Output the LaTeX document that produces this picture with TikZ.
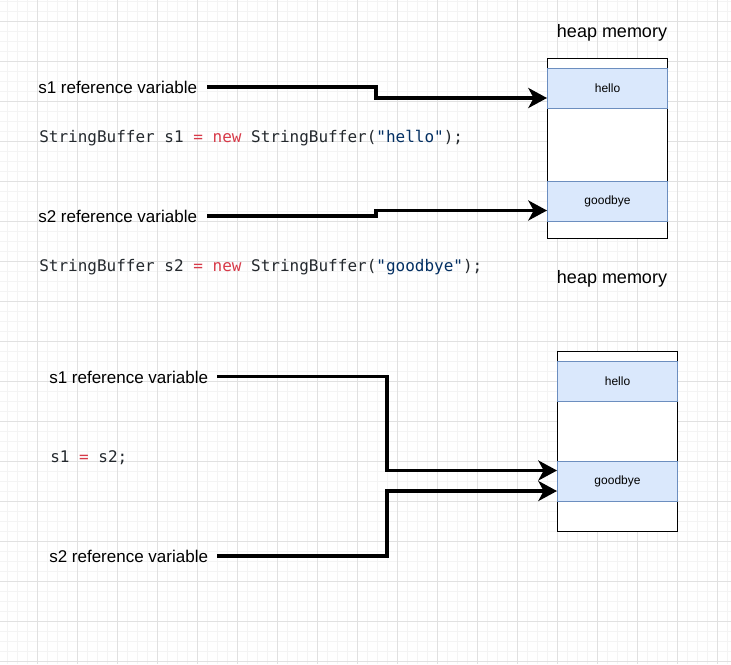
\documentclass[tikz,border=0pt]{standalone}
\usepackage{fontspec}
\setmainfont{Liberation Sans}
\newfontfamily\codefont{DejaVu Sans Mono}
\usetikzlibrary{arrows.meta}
\definecolor{gridmajor}{HTML}{E1E1E1}
\definecolor{gridminor}{HTML}{F4F4F4}
\definecolor{blockfill}{HTML}{DAE8FC}
\definecolor{blockline}{HTML}{6C8EBF}
\definecolor{kwred}{HTML}{D73A49}
\definecolor{strblue}{HTML}{032F62}
\definecolor{codetext}{HTML}{24292E}
\tikzset{
  minorgrid/.style={draw=gridminor, line width=0.75pt},
  majorgrid/.style={draw=gridmajor, line width=0.75pt},
  reflabel/.style={anchor=west, inner sep=0pt, font=\fontsize{12.75}{15}\selectfont},
  codeline/.style={anchor=west, inner sep=0pt, text=codetext, font=\codefont\fontsize{12}{14}\selectfont},
  heaplabel/.style={inner sep=0pt, font=\fontsize{13.5}{16}\selectfont},
  heapbox/.style={draw=black, fill=white, line width=0.75pt, minimum width=120*0.75pt, inner sep=0pt},
  block/.style={draw=blockline, fill=blockfill, line width=0.75pt, minimum width=120*0.75pt, minimum height=40*0.75pt, inner sep=0pt, font=\fontsize{9}{11}\selectfont},
  ref/.style={line width=2.6pt, -{Stealth[length=14pt, width=15pt, inset=4pt]}}
}
\begin{document}
\begin{tikzpicture}[x=0.75pt, y=-0.75pt]
\useasboundingbox (0,0) rectangle (731,664);
\fill[white] (0,0) rectangle (731,664);
% grid
\foreach \x in {7,17,...,727} \draw[minorgrid] (\x,0) -- (\x,664);
\foreach \y in {1.5,11.5,...,661.5} \draw[minorgrid] (0,\y) -- (731,\y);
\foreach \x in {37,77,...,717} \draw[majorgrid] (\x,0) -- (\x,664);
\foreach \y in {21.5,61.5,...,661.5} \draw[majorgrid] (0,\y) -- (731,\y);

% ---------- top part ----------
\node[heaplabel] (heap1) at (612,33) {heap memory};
\node[heapbox, minimum height=180*0.75pt] (box1) at (607.5,148.5) {};
\node[block] (hello1) at (607.5,88.5) {hello};
\node[block] (good1) at (607.5,201.5) {goodbye};

\node[reflabel] (s1a) at (38,87) {s1 reference variable};
\node[codeline] (code1) at (39,138) {StringBuffer s1 \textcolor{kwred}{= new} StringBuffer(\textcolor{strblue}{"hello"});};
\node[reflabel] (s2a) at (38,216.5) {s2 reference variable};
\node[codeline] (code2) at (39,267.5) {StringBuffer s2 \textcolor{kwred}{= new} StringBuffer(\textcolor{strblue}{"goodbye"});};

\coordinate (s1aout) at (207,87);
\coordinate (s1ain) at (hello1.west |- 0,98);
\coordinate (s2aout) at (207,216);
\coordinate (s2ain) at (good1.west |- 0,210.5);
\draw[ref] (s1aout) -- (376,87) -- (376,98) -- (s1ain);
\draw[ref] (s2aout) -- (376,216) -- (376,210.5) -- (s2ain);

% ---------- bottom part ----------
\node[heaplabel] (heap2) at (612,279) {heap memory};
\node[heapbox, minimum height=179.5*0.75pt] (box2) at (617.5,441.25) {};
\node[block] (hello2) at (617.5,381.5) {hello};
\node[block] (good2) at (617.5,481.5) {goodbye};

\node[reflabel] (s1b) at (49,377) {s1 reference variable};
\node[codeline] (code3) at (50,458) {s1 \textcolor{kwred}{=} s2;};
\node[reflabel] (s2b) at (49,556.5) {s2 reference variable};

\coordinate (s1bout) at (217,376.5);
\coordinate (s1bin) at (good2.west |- 0,470.5);
\coordinate (s2bout) at (217,556);
\coordinate (s2bin) at (good2.west |- 0,491);
\draw[ref] (s1bout) -- (387,376.5) -- (387,470.5) -- (s1bin);
\draw[ref] (s2bout) -- (387,556) -- (387,491) -- (s2bin);
\end{tikzpicture}
\end{document}
